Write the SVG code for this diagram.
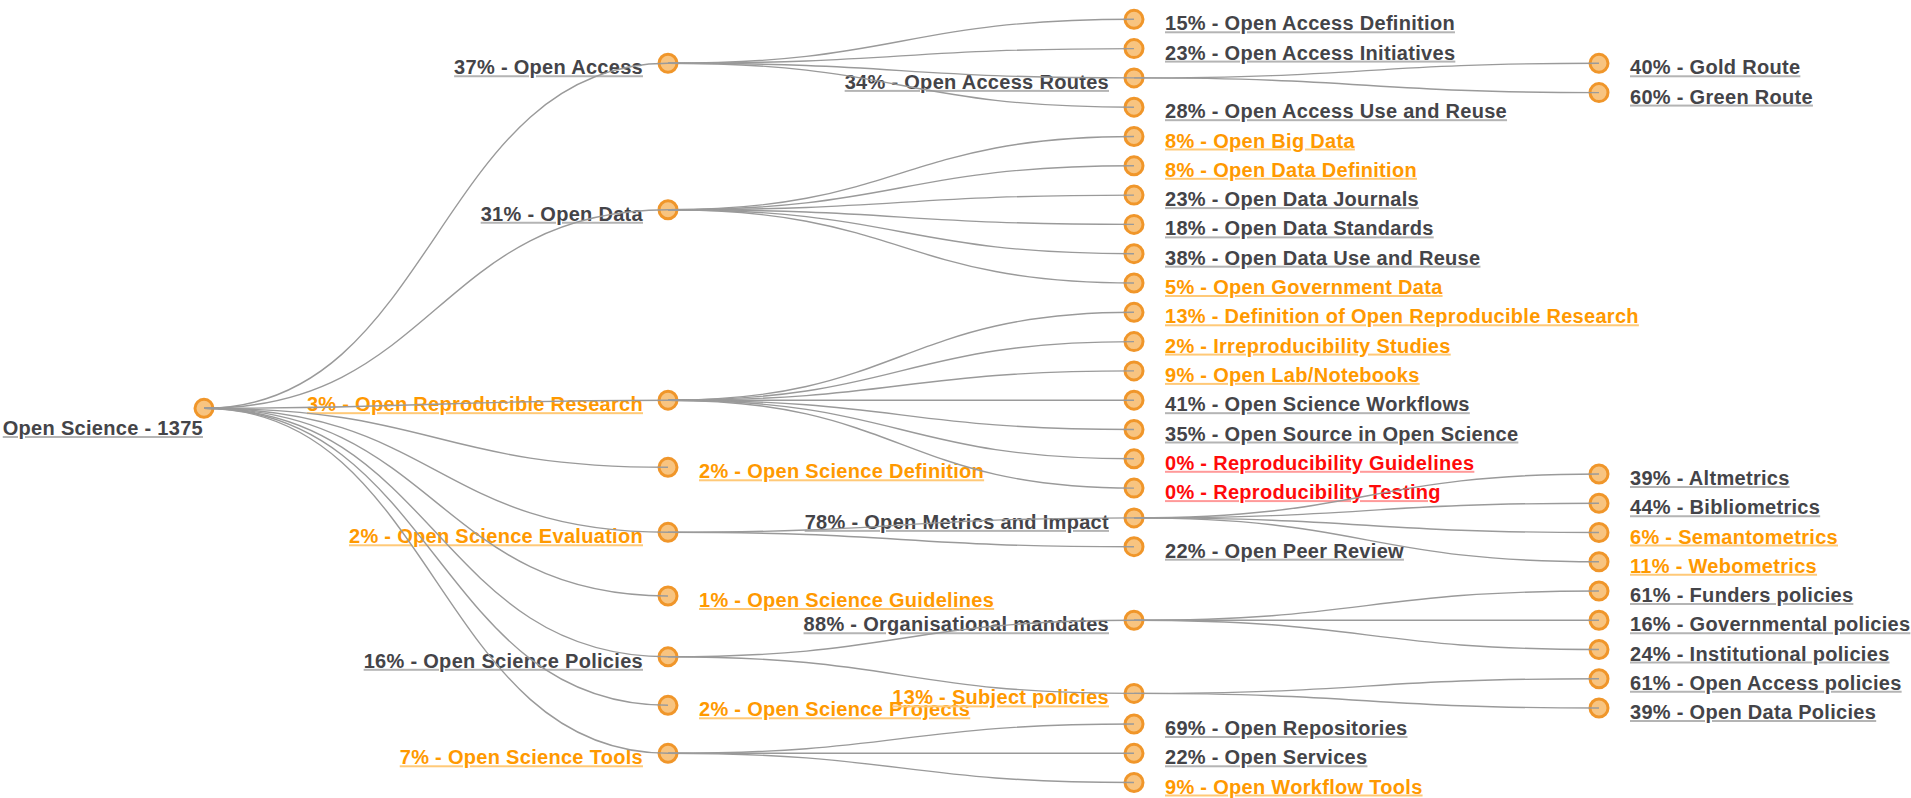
<svg xmlns="http://www.w3.org/2000/svg" width="1911" height="798" viewBox="0 0 1911 798">
<style>
text{font-family:"Liberation Sans",Arial,Helvetica,sans-serif;font-size:20px;font-weight:bold;letter-spacing:0.3px;text-decoration:underline}
.e{text-anchor:end}
.k{fill:#b4b4b4}.k tspan{fill:#444448}
.o{fill:#ffc978}.o tspan{fill:#ff9900}
.r{fill:#ff9a9a}.r tspan{fill:#ff0a0a}
circle{fill:#f39c2c;fill-opacity:0.6;stroke:#f0962a;stroke-width:3}
.lk path{fill:none;stroke:#9a9a9a;stroke-width:1.4}
</style>
<rect width="1911" height="798" fill="#ffffff"/>
<g id="nodes">
<g id="n-root"><circle cx="204" cy="408.3" r="9"/><text class="k e" x="203" y="435"><tspan>Open Science - 1375</tspan></text></g>
<g id="n-oa"><circle cx="668" cy="63.25" r="9"/><text class="k e" x="643" y="74.25"><tspan>37% - Open Access</tspan></text></g>
<g id="n-od"><circle cx="668" cy="209.75" r="9"/><text class="k e" x="643" y="220.75"><tspan>31% - Open Data</tspan></text></g>
<g id="n-orr"><circle cx="668" cy="400.2" r="9"/><text class="o e" x="643" y="411.2"><tspan>3% - Open Reproducible Research</tspan></text></g>
<g id="n-osdef"><circle cx="668" cy="467.3" r="9"/><text class="o" x="699" y="478.3"><tspan>2% - Open Science Definition</tspan></text></g>
<g id="n-oseval"><circle cx="668" cy="532.3" r="9"/><text class="o e" x="643" y="543.3"><tspan>2% - Open Science Evaluation</tspan></text></g>
<g id="n-osguide"><circle cx="668" cy="596" r="9"/><text class="o" x="699" y="607"><tspan>1% - Open Science Guidelines</tspan></text></g>
<g id="n-ospol"><circle cx="668" cy="656.8" r="9"/><text class="k e" x="643" y="667.8"><tspan>16% - Open Science Policies</tspan></text></g>
<g id="n-osproj"><circle cx="668" cy="705.3" r="9"/><text class="o" x="699" y="716.3"><tspan>2% - Open Science Projects</tspan></text></g>
<g id="n-ostools"><circle cx="668" cy="753.3" r="9"/><text class="o e" x="643" y="764.3"><tspan>7% - Open Science Tools</tspan></text></g>

<g id="n-oadef"><circle cx="1134" cy="19.3" r="9"/><text class="k" x="1165" y="30.3"><tspan>15% - Open Access Definition</tspan></text></g>
<g id="n-oainit"><circle cx="1134" cy="48.6" r="9"/><text class="k" x="1165" y="59.6"><tspan>23% - Open Access Initiatives</tspan></text></g>
<g id="n-oaroutes"><circle cx="1134" cy="77.9" r="9"/><text class="k e" x="1109" y="88.9"><tspan>34% - Open Access Routes</tspan></text></g>
<g id="n-oause"><circle cx="1134" cy="107.2" r="9"/><text class="k" x="1165" y="118.2"><tspan>28% - Open Access Use and Reuse</tspan></text></g>
<g id="n-bigdata"><circle cx="1134" cy="136.5" r="9"/><text class="o" x="1165" y="147.5"><tspan>8% - Open Big Data</tspan></text></g>
<g id="n-oddef"><circle cx="1134" cy="165.8" r="9"/><text class="o" x="1165" y="176.8"><tspan>8% - Open Data Definition</tspan></text></g>
<g id="n-odjour"><circle cx="1134" cy="195.1" r="9"/><text class="k" x="1165" y="206.1"><tspan>23% - Open Data Journals</tspan></text></g>
<g id="n-odstd"><circle cx="1134" cy="224.4" r="9"/><text class="k" x="1165" y="235.4"><tspan>18% - Open Data Standards</tspan></text></g>
<g id="n-oduse"><circle cx="1134" cy="253.7" r="9"/><text class="k" x="1165" y="264.7"><tspan>38% - Open Data Use and Reuse</tspan></text></g>
<g id="n-govdata"><circle cx="1134" cy="283" r="9"/><text class="o" x="1165" y="294"><tspan>5% - Open Government Data</tspan></text></g>
<g id="n-deforr"><circle cx="1134" cy="312.3" r="9"/><text class="o" x="1165" y="323.3"><tspan>13% - Definition of Open Reproducible Research</tspan></text></g>
<g id="n-irrepro"><circle cx="1134" cy="341.6" r="9"/><text class="o" x="1165" y="352.6"><tspan>2% - Irreproducibility Studies</tspan></text></g>
<g id="n-openlab"><circle cx="1134" cy="370.9" r="9"/><text class="o" x="1165" y="381.9"><tspan>9% - Open Lab/Notebooks</tspan></text></g>
<g id="n-osworkflows"><circle cx="1134" cy="400.2" r="9"/><text class="k" x="1165" y="411.2"><tspan>41% - Open Science Workflows</tspan></text></g>
<g id="n-opensource"><circle cx="1134" cy="429.5" r="9"/><text class="k" x="1165" y="440.5"><tspan>35% - Open Source in Open Science</tspan></text></g>
<g id="n-reprog"><circle cx="1134" cy="458.8" r="9"/><text class="r" x="1165" y="469.8"><tspan>0% - Reproducibility Guidelines</tspan></text></g>
<g id="n-reprot"><circle cx="1134" cy="488.1" r="9"/><text class="r" x="1165" y="499.1"><tspan>0% - Reproducibility Testing</tspan></text></g>
<g id="n-metrics"><circle cx="1134" cy="517.9" r="9"/><text class="k e" x="1109" y="528.9"><tspan>78% - Open Metrics and Impact</tspan></text></g>
<g id="n-peer"><circle cx="1134" cy="546.7" r="9"/><text class="k" x="1165" y="557.7"><tspan>22% - Open Peer Review</tspan></text></g>
<g id="n-orgmand"><circle cx="1134" cy="620.25" r="9"/><text class="k e" x="1109" y="631.25"><tspan>88% - Organisational mandates</tspan></text></g>
<g id="n-subjpol"><circle cx="1134" cy="693.4" r="9"/><text class="o e" x="1109" y="704.4"><tspan>13% - Subject policies</tspan></text></g>
<g id="n-repos"><circle cx="1134" cy="724" r="9"/><text class="k" x="1165" y="735"><tspan>69% - Open Repositories</tspan></text></g>
<g id="n-services"><circle cx="1134" cy="753.3" r="9"/><text class="k" x="1165" y="764.3"><tspan>22% - Open Services</tspan></text></g>
<g id="n-wftools"><circle cx="1134" cy="782.5" r="9"/><text class="o" x="1165" y="793.5"><tspan>9% - Open Workflow Tools</tspan></text></g>

<g id="n-gold"><circle cx="1599" cy="63.3" r="9"/><text class="k" x="1630" y="74.3"><tspan>40% - Gold Route</tspan></text></g>
<g id="n-green"><circle cx="1599" cy="92.6" r="9"/><text class="k" x="1630" y="103.6"><tspan>60% - Green Route</tspan></text></g>
<g id="n-alt"><circle cx="1599" cy="474" r="9"/><text class="k" x="1630" y="485"><tspan>39% - Altmetrics</tspan></text></g>
<g id="n-biblio"><circle cx="1599" cy="503.25" r="9"/><text class="k" x="1630" y="514.25"><tspan>44% - Bibliometrics</tspan></text></g>
<g id="n-semanto"><circle cx="1599" cy="532.5" r="9"/><text class="o" x="1630" y="543.5"><tspan>6% - Semantometrics</tspan></text></g>
<g id="n-webo"><circle cx="1599" cy="561.75" r="9"/><text class="o" x="1630" y="572.75"><tspan>11% - Webometrics</tspan></text></g>
<g id="n-funders"><circle cx="1599" cy="591" r="9"/><text class="k" x="1630" y="602"><tspan>61% - Funders policies</tspan></text></g>
<g id="n-govpol"><circle cx="1599" cy="620.25" r="9"/><text class="k" x="1630" y="631.25"><tspan>16% - Governmental policies</tspan></text></g>
<g id="n-instpol"><circle cx="1599" cy="649.5" r="9"/><text class="k" x="1630" y="660.5"><tspan>24% - Institutional policies</tspan></text></g>
<g id="n-oapol"><circle cx="1599" cy="678.75" r="9"/><text class="k" x="1630" y="689.75"><tspan>61% - Open Access policies</tspan></text></g>
<g id="n-odpol"><circle cx="1599" cy="708" r="9"/><text class="k" x="1630" y="719"><tspan>39% - Open Data Policies</tspan></text></g>
</g>

<g id="connectors" class="lk">
<path d="M204,408.3C436,408.3 436,63.25 668,63.25"/>
<path d="M204,408.3C436,408.3 436,209.75 668,209.75"/>
<path d="M204,408.3C436,408.3 436,400.2 668,400.2"/>
<path d="M204,408.3C436,408.3 436,467.3 668,467.3"/>
<path d="M204,408.3C436,408.3 436,532.3 668,532.3"/>
<path d="M204,408.3C436,408.3 436,596 668,596"/>
<path d="M204,408.3C436,408.3 436,656.8 668,656.8"/>
<path d="M204,408.3C436,408.3 436,705.3 668,705.3"/>
<path d="M204,408.3C436,408.3 436,753.3 668,753.3"/>

<path d="M668,63.25C901,63.25 901,19.3 1134,19.3"/>
<path d="M668,63.25C901,63.25 901,48.6 1134,48.6"/>
<path d="M668,63.25C901,63.25 901,77.9 1134,77.9"/>
<path d="M668,63.25C901,63.25 901,107.2 1134,107.2"/>

<path d="M668,209.75C901,209.75 901,136.5 1134,136.5"/>
<path d="M668,209.75C901,209.75 901,165.8 1134,165.8"/>
<path d="M668,209.75C901,209.75 901,195.1 1134,195.1"/>
<path d="M668,209.75C901,209.75 901,224.4 1134,224.4"/>
<path d="M668,209.75C901,209.75 901,253.7 1134,253.7"/>
<path d="M668,209.75C901,209.75 901,283 1134,283"/>

<path d="M668,400.2C901,400.2 901,312.3 1134,312.3"/>
<path d="M668,400.2C901,400.2 901,341.6 1134,341.6"/>
<path d="M668,400.2C901,400.2 901,370.9 1134,370.9"/>
<path d="M668,400.2C901,400.2 901,400.2 1134,400.2"/>
<path d="M668,400.2C901,400.2 901,429.5 1134,429.5"/>
<path d="M668,400.2C901,400.2 901,458.8 1134,458.8"/>
<path d="M668,400.2C901,400.2 901,488.1 1134,488.1"/>

<path d="M668,532.3C901,532.3 901,517.9 1134,517.9"/>
<path d="M668,532.3C901,532.3 901,546.7 1134,546.7"/>

<path d="M668,656.8C901,656.8 901,620.25 1134,620.25"/>
<path d="M668,656.8C901,656.8 901,693.4 1134,693.4"/>

<path d="M668,753.3C901,753.3 901,724 1134,724"/>
<path d="M668,753.3C901,753.3 901,753.3 1134,753.3"/>
<path d="M668,753.3C901,753.3 901,782.5 1134,782.5"/>

<path d="M1134,77.9C1366.5,77.9 1366.5,63.3 1599,63.3"/>
<path d="M1134,77.9C1366.5,77.9 1366.5,92.6 1599,92.6"/>

<path d="M1134,517.9C1366.5,517.9 1366.5,474 1599,474"/>
<path d="M1134,517.9C1366.5,517.9 1366.5,503.25 1599,503.25"/>
<path d="M1134,517.9C1366.5,517.9 1366.5,532.5 1599,532.5"/>
<path d="M1134,517.9C1366.5,517.9 1366.5,561.75 1599,561.75"/>

<path d="M1134,620.25C1366.5,620.25 1366.5,591 1599,591"/>
<path d="M1134,620.25C1366.5,620.25 1366.5,620.25 1599,620.25"/>
<path d="M1134,620.25C1366.5,620.25 1366.5,649.5 1599,649.5"/>

<path d="M1134,693.4C1366.5,693.4 1366.5,678.75 1599,678.75"/>
<path d="M1134,693.4C1366.5,693.4 1366.5,708 1599,708"/>
</g>
</svg>
